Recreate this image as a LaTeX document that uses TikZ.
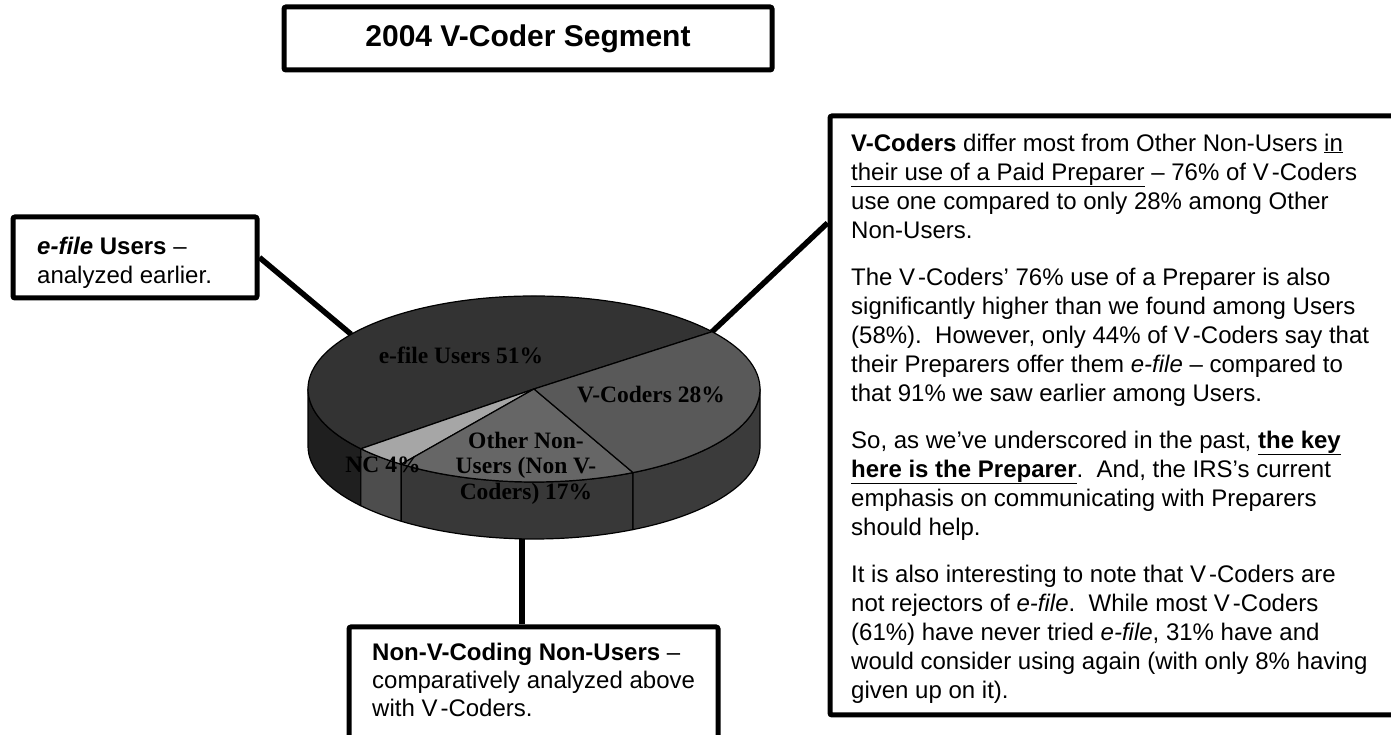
\documentclass[tikz,border=0pt]{standalone}
\usepackage{fontspec}
\setsansfont{Liberation Sans}
\newfontfamily\pieserif{Liberation Serif}
\usetikzlibrary{calc}
\definecolor{topE}{HTML}{333333}
\definecolor{topV}{HTML}{595959}
\definecolor{topO}{HTML}{666666}
\definecolor{topN}{HTML}{A6A6A6}
\definecolor{wallE}{HTML}{1F1F1F}
\definecolor{wallN}{HTML}{4D4D4D}
\definecolor{wallO}{HTML}{383838}
\definecolor{wallV}{HTML}{3B3B3B}
\newcommand{\vcod}{V\kern3pt-Coders}
\begin{document}
\begin{tikzpicture}[x=1pt,y=1pt,
  frame/.style={draw=black, line width=5pt, rounded corners=2pt, fill=white, inner sep=0pt},
  conn/.style={draw=black, line width=5.5pt},
  body/.style={font=\sffamily\fontsize{24}{29}\selectfont, align=left, inner sep=0pt, anchor=north west},
  pielab/.style={font=\pieserif\bfseries\fontsize{23.5}{25.5}\selectfont, align=center, inner sep=0pt},
  face/.style={draw=black, line width=1.2pt, line join=round}]
\useasboundingbox (0,0) rectangle (1391,735);
\clip (0,0) rectangle (1391,735);
\fill[white] (0,0) rectangle (1391,735);

% boxes
\node[frame, minimum width=488pt, minimum height=63pt,
      font=\sffamily\bfseries\fontsize{30}{35}\selectfont] (title) at (528,696.5) {2004 V-Coder Segment};
\node[frame, minimum width=244pt, minimum height=81pt] (lbox) at (135,477.5) {};
\node[frame, minimum width=570pt, minimum height=599pt] (rbox) at (1115,319.5) {};
\node[frame, minimum width=369pt, minimum height=120pt] (bbox) at (533.5,48) {};

% pie reference points
\coordinate (C) at (534,346);
\coordinate (pieL) at ($(C)+(144:226 and 93)$);
\coordinate (pieR) at ($(C)+(38:226 and 93)$);
\coordinate (pieB) at ($(C)+(267:226 and 93)+(0,-57)$);
\coordinate (ry) at (0,512);

% connectors
\draw[conn] (lbox.east) -- (pieL);
\draw[conn] (pieR) -- (rbox.west |- ry);
\draw[conn] (pieB) -- (pieB |- bbox.north);

% pie walls
\foreach \a/\b/\c in {180/220/wallE, 220/234/wallN, 234/296/wallO, 296/360/wallV}{
  \filldraw[face, fill=\c] ($(C)+(\a:226 and 93)$)
    arc[start angle=\a, end angle=\b, x radius=226, y radius=93]
    -- ++(0,-57)
    arc[start angle=\b, end angle=\a, x radius=226, y radius=93] -- cycle;
}
% pie top
\foreach \a/\b/\c in {38/220/topE, 220/234/topN, 234/296/topO, -64/38/topV}{
  \filldraw[face, fill=\c] (C) -- ($(C)+(\a:226 and 93)$)
    arc[start angle=\a, end angle=\b, x radius=226, y radius=93] -- cycle;
}

% pie labels
\node[pielab] (labE) at (461,380) {e-file Users 51\%};
\node[pielab] (labV) at (651,340) {V-Coders 28\%};
\node[pielab] (labO) at (526,267) {Other Non-\\Users (Non V-\\Coders) 17\%};
\node[pielab] (labN) at (383,270) {NC 4\%};

% texts
\node[body] (ltext) at (37,498.5) {\textbf{\textit{e-file} Users} –\\analyzed earlier.};
\node[body] (rtext) at (851,601.5) {%
\textbf{V-Coders} differ most from Other Non-Users \underline{in}\\
\underline{their use of a Paid Preparer} – 76\% of \vcod\\
use one compared to only 28\% among Other\\
Non-Users.\\[18pt]
The \vcod' 76\% use of a Preparer is also\\
significantly higher than we found among Users\\
(58\%).\ \ However, only 44\% of \vcod\ say that\\
their Preparers offer them \textit{e-file} – compared to\\
that 91\% we saw earlier among Users.\\[18pt]
So, as we've underscored in the past, \underline{\textbf{the key}}\\
\underline{\textbf{here is the Preparer}}.\ \ And, the IRS's current\\
emphasis on communicating with Preparers\\
should help.\\[18pt]
It is also interesting to note that \vcod\ are\\
not rejectors of \textit{e-file}.\ \ While most \vcod\\
(61\%) have never tried \textit{e-file}, 31\% have and\\
would consider using again (with only 8\% having\\
given up on it).};
\node[body, font=\sffamily\fontsize{24}{28}\selectfont] (btext) at (372,92) {\textbf{Non-V-Coding Non-Users} –\\comparatively analyzed above\\with \vcod.};
\end{tikzpicture}
\end{document}
